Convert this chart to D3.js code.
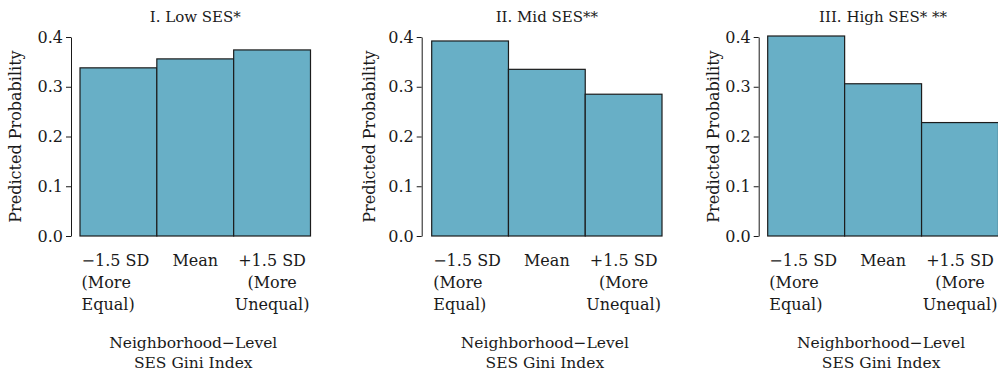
<!DOCTYPE html>
<html>
<head>
<meta charset="utf-8">
<script src="https://cdnjs.cloudflare.com/ajax/libs/d3/7.8.5/d3.min.js"></script>
<style>
  body { margin: 0; background: #fff; }
  text { font-family: "DejaVu Serif", serif; fill: #1a1a1a; }
</style>
</head>
<body>
<div id="chart"></div>
<script>
// data
const categoryLabels = [["−1.5 SD", "(More", "Equal)"], ["Mean"], ["+1.5 SD", "(More", "Unequal)"]];
const panelTitles = ["I. Low SES*", "II. Mid SES**", "III. High SES* **"];
const lowSES = [0.338, 0.356, 0.374];
const midSES = [0.392, 0.335, 0.285];
const highSES = [0.402, 0.306, 0.228];
const yTicks = [0, 0.1, 0.2, 0.3, 0.4];
const yLabel = "Predicted Probability";
const xLabel = ["Neighborhood−Level", "SES Gini Index"];

const seriesList = [lowSES, midSES, highSES];

const width = 998;
const height = 378;

// panel layout (pixels)
const panels = [
    { axisX: 71, left: 80, right: 310.5, ylabX: 16 },
    { axisX: 421.7, left: 431.7, right: 662, ylabX: 370 },
    { axisX: 758.7, left: 767.7, right: 998.5, ylabX: 714 }
];

const svg = d3.select("#chart")
    .append("svg")
    .attr("width", width)
    .attr("height", height);

const y = d3.scaleLinear()
    .domain([0, 0.4])
    .range([236, 37]);

panels.forEach((p, i) => {
    const g = svg.append("g");
    const values = seriesList[i];

    const x = d3.scaleBand()
        .domain(d3.range(values.length))
        .range([p.left, p.right])
        .padding(0);

    // bars
    g.selectAll("rect")
        .data(values)
        .enter()
        .append("rect")
        .attr("x", (d, j) => x(j))
        .attr("y", d => y(d))
        .attr("width", x.bandwidth())
        .attr("height", d => y(0) - y(d))
        .attr("fill", "#68afc6")
        .attr("stroke", "#1c1c1c")
        .attr("stroke-width", 1.2);

    // y axis
    const yAxis = g.append("g")
        .attr("transform", `translate(${p.axisX},0)`)
        .call(d3.axisLeft(y)
            .tickValues(yTicks)
            .tickFormat(d3.format(".1f"))
            .tickSize(5)
            .tickSizeOuter(0)
            .tickPadding(3));
    yAxis.select(".domain").attr("stroke", "#1a1a1a");
    yAxis.selectAll(".tick line").attr("stroke", "#1a1a1a");
    yAxis.selectAll(".tick text")
        .attr("font-size", 16)
        .attr("font-family", "DejaVu Serif")
        .attr("fill", "#1a1a1a");

    // y label
    g.append("text")
        .attr("transform", `translate(${p.ylabX + 5},${(y(0) + y(0.4)) / 2}) rotate(-90)`)
        .attr("text-anchor", "middle")
        .attr("font-size", 16)
        .text(yLabel);

    // title
    g.append("text")
        .attr("x", (p.left + p.right) / 2)
        .attr("y", 22)
        .attr("text-anchor", "middle")
        .attr("font-size", 15)
        .text(panelTitles[i]);

    // category labels
    categoryLabels.forEach((lines, j) => {
        const cx = x(j) + x.bandwidth() / 2;
        const t = g.append("text")
            .attr("font-size", 16)
            .attr("text-anchor", "middle");
        lines.forEach((line, k) => {
            t.append("tspan")
                .attr("x", cx)
                .attr("y", 266 + k * 22)
                .text(line);
        });
        if (j === 0) {
            // first label is a left-aligned block
            const w = t.node().getBBox().width;
            t.attr("text-anchor", "start");
            t.selectAll("tspan").attr("x", cx - w / 2 - 3);
        }
    });

    // x axis title
    xLabel.forEach((line, k) => {
        g.append("text")
            .attr("x", (p.left + p.right) / 2 - 2)
            .attr("y", 348 + k * 20)
            .attr("text-anchor", "middle")
            .attr("font-size", 15.5)
            .text(line);
    });
});
</script>
</body>
</html>
